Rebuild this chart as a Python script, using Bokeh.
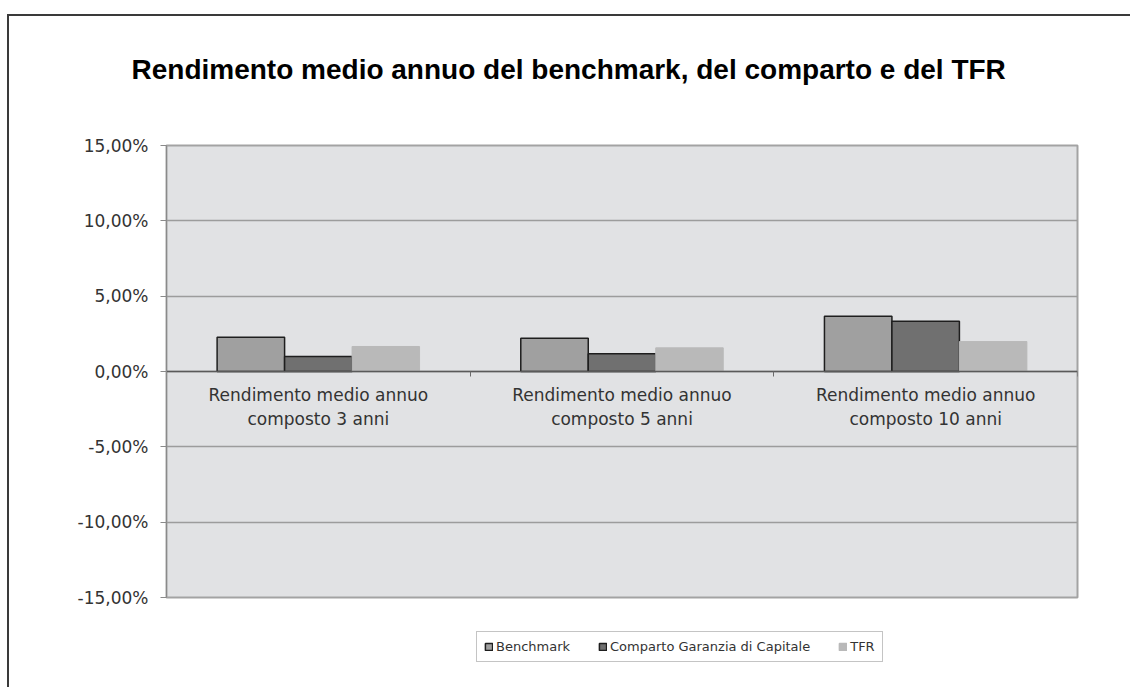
from bokeh.plotting import figure
from bokeh.models import (ColumnDataSource, FixedTicker, Legend, LegendItem, Range1d, Title)
from bokeh.layouts import column
from bokeh.transform import dodge
from bokeh.embed import file_html
from bokeh.resources import INLINE

# ---- data ----
categories = ["Rendimento medio annuo\ncomposto 3 anni",
              "Rendimento medio annuo\ncomposto 5 anni",
              "Rendimento medio annuo\ncomposto 10 anni"]
series_names = ["Benchmark", "Comparto Garanzia di Capitale", "TFR"]
benchmark = [2.28, 2.21, 3.67]
comparto = [1.00, 1.17, 3.34]
tfr = [1.66, 1.57, 1.99]
y_ticks = [-15, -10, -5, 0, 5, 10, 15]
y_tick_labels = ["-15,00%", "-10,00%", "-5,00%", "0,00%", "5,00%", "10,00%", "15,00%"]
title_text = "Rendimento medio annuo del benchmark, del comparto e del TFR"

colors = ["#a0a0a0", "#707070", "#b9b9b9"]
outlines = ["#1e1e1e", "#1e1e1e", "#b9b9b9"]

W = 1130
H_TITLE, H_MAIN, H_LEG = 110, 515, 62
LINE = "#3a3a3a"
left_line = {
    "background-color": "white",
    "background-image": f"linear-gradient({LINE}, {LINE})",
    "background-size": "2px 100%",
    "background-position": "7px 0px",
    "background-repeat": "no-repeat",
}

# ---- title strip ----
tf = figure(width=W, height=H_TITLE, output_backend="svg", toolbar_location=None,
            x_range=Range1d(0, 1), y_range=Range1d(0, 1), min_border=0,
            x_axis_location=None, y_axis_location=None)
tf.grid.visible = False
tf.outline_line_color = None
tf.background_fill_alpha = 0
tf.border_fill_alpha = 0
tf.styles = {
    "background-color": "white",
    "background-image": f"linear-gradient({LINE}, {LINE}), linear-gradient({LINE}, {LINE})",
    "background-size": "100% 2px, 2px 100%",
    "background-position": "7px 14px, 7px 14px",
    "background-repeat": "no-repeat",
}
tf.add_layout(Title(text=title_text, align="left", offset=-35, vertical_align="top",
                    standoff=48, text_font="Liberation Sans", text_font_style="bold",
                    text_font_size="28px", text_color="black"), "below")

# ---- main chart ----
p = figure(width=W, height=H_MAIN, output_backend="svg", toolbar_location=None,
           x_range=Range1d(0, len(categories)), y_range=Range1d(-15, 15),
           min_border_left=166, min_border_right=53, min_border_top=35, min_border_bottom=28)
p.background_fill_color = "#e1e2e4"
p.border_fill_alpha = 0
p.outline_line_color = "#a3a3a3"
p.outline_line_width = 2
p.styles = dict(left_line)

font = "DejaVu Sans"
p.yaxis.ticker = FixedTicker(ticks=y_ticks)
p.yaxis.major_label_overrides = {t: l for t, l in zip(y_ticks, y_tick_labels)}
p.yaxis.major_label_text_font = font
p.yaxis.major_label_text_font_size = "17px"
p.yaxis.major_label_text_color = "#333333"
p.yaxis.axis_line_color = "#8a8a8a"
p.yaxis.major_tick_line_color = "#8a8a8a"
p.yaxis.major_tick_out = 6
p.yaxis.major_tick_in = 0
p.yaxis.minor_tick_line_color = None
p.yaxis.major_label_standoff = 12

centers = [i + 0.5 for i in range(len(categories))]
bounds = [i + 1 for i in range(len(categories))]
p.xaxis.fixed_location = 0
p.xaxis.ticker = FixedTicker(ticks=centers, minor_ticks=bounds)
p.xaxis.major_label_overrides = {c: l for c, l in zip(centers, categories)}
p.xaxis.major_label_text_font = font
p.xaxis.major_label_text_font_size = "17px"
p.xaxis.major_label_text_color = "#333333"
p.xaxis.axis_line_color = "#5a5a5a"
p.xaxis.axis_line_width = 1.5
p.xaxis.major_tick_line_color = None
p.xaxis.minor_tick_line_color = "#6a6a6a"
p.xaxis.minor_tick_out = 5
p.xaxis.minor_tick_in = 0
p.xaxis.major_label_standoff = 7

p.xgrid.visible = False
p.ygrid.ticker = FixedTicker(ticks=y_ticks)
p.ygrid.grid_line_color = "#9c9c9c"
p.ygrid.grid_line_width = 1.5

bw = 1 / 4.5
src = ColumnDataSource(dict(x=centers, b=benchmark, c=comparto, t=tfr))
for col, off, fc, lc in zip(["b", "c", "t"], [-bw, 0, bw], colors, outlines):
    p.vbar(x=dodge("x", off, range=p.x_range), top=col, bottom=0, width=bw, source=src,
           fill_color=fc, line_color=lc, line_width=1.5 if lc != fc else 1)

# ---- legend strip (hidden renderers only supply the legend swatches) ----
lf = figure(width=W, height=H_LEG, output_backend="svg", toolbar_location=None,
            x_range=Range1d(0, len(categories)), y_range=Range1d(-15, 15), min_border=0,
            x_axis_location=None, y_axis_location=None)
lf.grid.visible = False
lf.outline_line_color = None
lf.background_fill_alpha = 0
lf.border_fill_alpha = 0
lf.styles = dict(left_line)
items = []
for name, col, fc, lc in zip(series_names, ["b", "c", "t"], colors, outlines):
    r = lf.vbar(x="x", top=col, bottom=0, width=bw, source=src,
                fill_color=fc, line_color=lc, line_width=1.5, visible=False)
    items.append(LegendItem(label=name, renderers=[r]))

legend = Legend(items=items, orientation="horizontal", location=(310, 25),
                label_text_font=font, label_text_font_size="13px", label_text_color="#333333",
                glyph_width=9, glyph_height=9, spacing=28, padding=7, margin=0,
                label_standoff=3, click_policy="none",
                inactive_fill_alpha=0,
                border_line_color="#8a8a8a", border_line_width=1.5,
                background_fill_color="white", background_fill_alpha=1)
lf.add_layout(legend)

layout = column(tf, p, lf, spacing=0)
open("out.html", "w").write(file_html(layout, INLINE))
